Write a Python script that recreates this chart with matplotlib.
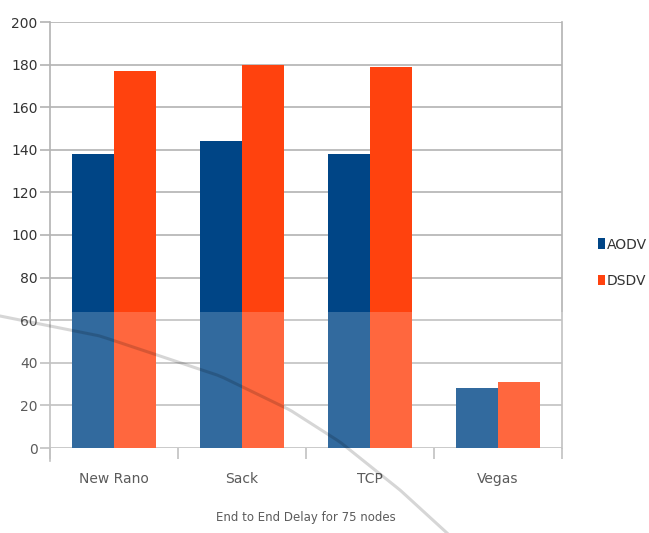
import matplotlib
matplotlib.use("Agg")
import matplotlib.pyplot as plt
import numpy as np
from matplotlib.patches import Rectangle

# Delay values per TCP variant
categories = ["New Rano", "Sack", "TCP", "Vegas"]
aodv = [138, 144, 138, 28]
dsdv = [177, 180, 179, 31]
yticks = [0, 20, 40, 60, 80, 100, 120, 140, 160, 180, 200]
xlabel = "End to End Delay for 75 nodes"
series_names = ["AODV", "DSDV"]

BLUE = "#004586"
ORANGE = "#FF420E"
GRID = "#b3b3b3"
TXT = "#333333"

plt.rcParams["font.family"] = ["DejaVu Sans"]

fig = plt.figure(figsize=(6.49, 5.33), dpi=100)
ax = fig.add_axes([50 / 649, 1 - 448 / 533, 512 / 649, 426 / 533])

x = np.arange(len(categories))
w = 0.33
ax.bar(x - w / 2, aodv, width=w, color=BLUE, label=series_names[0], zorder=3)
ax.bar(x + w / 2, dsdv, width=w, color=ORANGE, label=series_names[1], zorder=3)

ax.set_xlim(-0.5, len(categories) - 0.5)
ax.set_ylim(0, 200)
ax.set_yticks(yticks)
ax.set_yticklabels([str(v) for v in yticks], color=TXT, fontsize=10)
ax.yaxis.grid(True, color=GRID, linewidth=1.2, zorder=0)
ax.set_axisbelow(True)

ax.set_xticks(x)
ax.set_xticklabels(categories, color=TXT, fontsize=10)
ax.set_xticks(np.arange(-0.5, len(categories)), minor=True)
ax.tick_params(axis="x", which="major", length=0, pad=17)
ax.tick_params(axis="x", which="minor", length=8, color=GRID, width=1.2)
ax.tick_params(axis="y", length=7, color=GRID, width=1.2, pad=2)

for side in ["top", "bottom"]:
    ax.spines[side].set_visible(False)
for side in ["left", "right"]:
    ax.spines[side].set_color(GRID)
    ax.spines[side].set_linewidth(1.2)
ax.spines["left"].set_bounds(-6, 200)

ax.set_xlabel(xlabel, fontsize=8.5, color=TXT, labelpad=18)

leg = ax.legend(loc="upper left", bbox_to_anchor=(592 / 649, 1 - 232 / 533),
                bbox_transform=fig.transFigure, frameon=False, fontsize=10,
                handlelength=0.5, handleheight=0.8, handletextpad=0.15,
                labelspacing=1.6, borderaxespad=0)
for t in leg.get_texts():
    t.set_color(TXT)

# Faint watermark: pale wash over the lower part and a thin arc
fig.patches.append(Rectangle((0, 0), 1, 1 - 312 / 533, transform=fig.transFigure,
                             facecolor="white", alpha=0.2, edgecolor="none", zorder=10))
arc_px = np.array([[0, 316], [100, 336], [220, 376], [290, 410], [340, 442], [400, 490], [447, 533]])
t = np.linspace(0, 1, len(arc_px))
tt = np.linspace(0, 1, 80)
arc_x = np.interp(tt, t, arc_px[:, 0]) / 649
arc_y = 1 - np.interp(tt, t, arc_px[:, 1]) / 533
fig.add_artist(plt.Line2D(arc_x, arc_y, transform=fig.transFigure, color="black",
                          alpha=0.16, linewidth=2.2, zorder=11))

fig.savefig("out.png", dpi=100)
